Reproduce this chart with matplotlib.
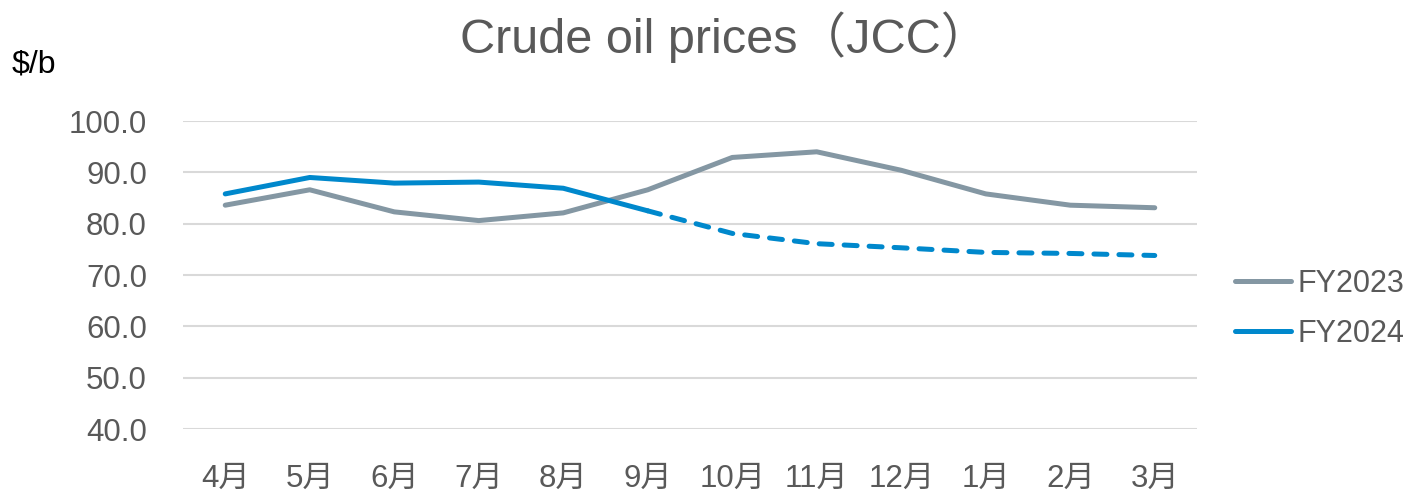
import matplotlib
matplotlib.use("Agg")
import matplotlib.pyplot as plt

months = ["4月", "5月", "6月", "7月", "8月", "9月", "10月", "11月", "12月", "1月", "2月", "3月"]
fy2023 = [83.6, 86.6, 82.3, 80.6, 82.1, 86.6, 92.9, 94.0, 90.4, 85.8, 83.6, 83.1]
fy2024 = [85.8, 89.0, 87.9, 88.1, 86.9, 82.5, 78.1, 76.1, 75.3, 74.4, 74.2, 73.8]
solid_end = 5  # index of 9月: actual up to here, forecast afterwards
yticks = [40, 50, 60, 70, 80, 90, 100]

plt.rcParams["font.family"] = ["Liberation Sans", "Noto Sans CJK JP", "DejaVu Sans"]

GRAY = "#8497A3"
BLUE = "#0088CC"
TXT = "#595959"
W, H = 1410, 494

fig = plt.figure(figsize=(W / 100, H / 100), dpi=100)
ax = fig.add_axes([183 / W, 1 - 429 / H, (1197 - 183) / W, (429 - 121) / H])

x = list(range(len(months)))
lw = 3.6
ax.plot(x, fy2023, color=GRAY, lw=lw, solid_capstyle="round", solid_joinstyle="round",
        label="FY2023", zorder=3)
ax.plot(x[:solid_end + 1], fy2024[:solid_end + 1], color=BLUE, lw=lw,
        solid_capstyle="round", solid_joinstyle="round", label="FY2024", zorder=4)
ax.plot(x[solid_end:], fy2024[solid_end:], color=BLUE, lw=lw, dashes=(2.6, 2.4),
        dash_capstyle="round", dash_joinstyle="round", zorder=4)

ax.set_xlim(-0.5, len(months) - 0.5)
ax.set_ylim(40, 100)
ax.set_yticks(yticks)
ax.set_yticklabels([f"{v:.1f}" for v in yticks])
ax.set_xticks(x)
ax.set_xticklabels(months)
ax.tick_params(axis="both", length=0, labelsize=22.5, labelcolor=TXT)
ax.tick_params(axis="y", pad=26)
ax.tick_params(axis="x", pad=25)
ax.grid(axis="y", color="#D9D9D9", lw=1.5, zorder=0)
ax.set_axisbelow(True)
for s in ax.spines.values():
    s.set_visible(False)

fig.text(725 / W, 1 - 53 / H, "Crude oil prices（JCC）", ha="center", va="baseline",
         fontsize=35, color=TXT)
fig.text(12 / W, 1 - 72 / H, "$/b", ha="left", va="baseline", fontsize=23, color="black")

fig.legend(loc="center left", bbox_to_anchor=(1235 / W, 1 - 309 / H), frameon=False,
           fontsize=22, labelcolor=TXT, handlelength=1.83, handletextpad=0.2,
           labelspacing=0.65, borderaxespad=0, borderpad=0)

fig.savefig("out.png", dpi=100)
